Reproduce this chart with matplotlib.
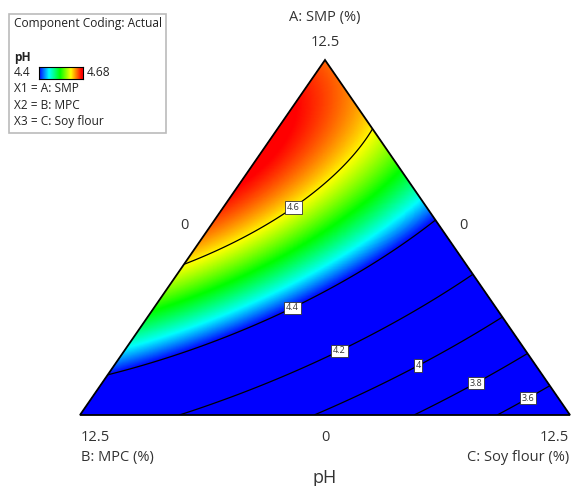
"""Mixture design contour plot (ternary) of pH"""

import numpy as np
from matplotlib import pyplot as plt
from matplotlib.colors import LinearSegmentedColormap, Normalize
from matplotlib.patches import Polygon, Rectangle
from matplotlib.transforms import Affine2D

# quadratic mixture model for pH, pseudo components (A + B + C = 12.5 %)
coef_linear = [4.638, 4.296, 3.40]       # A, B, C
coef_cross = [0.65, 1.293, 0.53]         # AB, AC, BC
contour_levels = [3.6, 3.8, 4.0, 4.2, 4.4, 4.6]
color_range = [4.4, 4.68]
axis_names = ['A: SMP (%)', 'B: MPC (%)', 'C: Soy flour (%)']
vertex_max = '12.5'
vertex_min = '0'
legend_lines = ['X1 = A: SMP', 'X2 = B: MPC', 'X3 = C: Soy flour']

W, H = 571, 486
plt.rcParams['font.family'] = ['Open Sans', 'DejaVu Sans']
fig = plt.figure(figsize=(W / 100, H / 100), dpi=100)
pix = Affine2D().scale(1 / W, -1 / H).translate(0, 1) + fig.transFigure

ax = fig.add_axes([80 / W, 1 - 415 / H, 490 / W, 355 / H])
ax.set_xlim(0, 1)
ax.set_ylim(0, 1)
ax.axis('off')

# grid in triangle coordinates: y = A, x = C + A / 2
gx, gy = np.meshgrid(np.linspace(0, 1, 600), np.linspace(0, 1, 600))
A = gy
C = gx - gy / 2
B = 1 - A - C
ph = (coef_linear[0] * A + coef_linear[1] * B + coef_linear[2] * C
      + coef_cross[0] * A * B + coef_cross[1] * A * C + coef_cross[2] * B * C)

cmap = LinearSegmentedColormap.from_list(
    'de', [(0, '#0000ff'), (0.22, '#00ffff'), (0.47, '#00ff00'),
           (0.71, '#ffff00'), (0.95, '#ff0000'), (1, '#ff0000')])
norm = Normalize(vmin=color_range[0], vmax=color_range[1], clip=True)

tri = Polygon([[0, 0], [1, 0], [0.5, 1]], closed=True, fill=False,
              edgecolor='black', linewidth=1.3, zorder=5)
ax.add_patch(tri)
tri.set_clip_on(False)

mesh = ax.pcolormesh(gx, gy, ph, cmap=cmap, norm=norm, shading='gouraud')
mesh.set_clip_path(tri)

cs = ax.contour(gx, gy, ph, levels=contour_levels, colors='black', linewidths=0.9)
cs.set_clip_path(tri)

# label anchor points (pixels in the picture)
label_pix = [(527, 396), (474, 380), (415, 360), (337, 346), (290, 303), (292, 205)]
manual = [((x - 80) / 490, (415 - y) / 355) for x, y in label_pix]
labels = cs.clabel(inline=False, fontsize=6.5, manual=manual,
                   fmt=lambda v: f'{v:g}')
for t in labels:
    t.set_color('#333333')
    t.set_bbox(dict(boxstyle='square,pad=0.2', facecolor='white',
                    edgecolor='#333333', linewidth=0.6))
    t.set_rotation(0)
    t.set_zorder(6)

# vertex / axis labels
tc = '#333333'
fs = 10.5
fig.text(325, 18, axis_names[0], transform=pix, ha='center', va='center', fontsize=fs, color=tc)
fig.text(325, 42, vertex_max, transform=pix, ha='center', va='center', fontsize=fs, color=tc)
fig.text(184, 225, vertex_min, transform=pix, ha='center', va='center', fontsize=fs, color=tc)
fig.text(463, 225, vertex_min, transform=pix, ha='center', va='center', fontsize=fs, color=tc)
fig.text(81, 437, vertex_max, transform=pix, ha='left', va='center', fontsize=fs, color=tc)
fig.text(81, 457, axis_names[1], transform=pix, ha='left', va='center', fontsize=fs, color=tc)
fig.text(325, 437, vertex_min, transform=pix, ha='center', va='center', fontsize=fs, color=tc)
fig.text(569, 437, vertex_max, transform=pix, ha='right', va='center', fontsize=fs, color=tc)
fig.text(569, 457, axis_names[2], transform=pix, ha='right', va='center', fontsize=fs, color=tc)
fig.text(325, 478, 'pH', transform=pix, ha='center', va='center', fontsize=13, color=tc)

# legend box
fig.add_artist(Rectangle((9, 14), 157, 119, transform=pix, fill=False,
                         edgecolor='#bbbbbb', linewidth=1.2))
lc = '#222222'
lfs = 8.6
fig.text(14, 24, 'Component Coding: Actual', transform=pix, va='center', fontsize=lfs, color=lc)
fig.text(14, 57, 'pH', transform=pix, va='center', fontsize=lfs, color=lc, fontweight='bold')
fig.text(14, 73, f'{color_range[0]:g}', transform=pix, va='center', fontsize=lfs, color=lc)
fig.text(87, 73, f'{color_range[1]:g}', transform=pix, va='center', fontsize=lfs, color=lc)
for i, s in enumerate(legend_lines):
    fig.text(14, 89 + 16 * i, s, transform=pix, va='center', fontsize=lfs, color=lc)

cax = fig.add_axes([39 / W, 1 - 79 / H, 44 / W, 12 / H])
cax.imshow(np.linspace(0, 1, 200)[None, :], cmap=cmap, aspect='auto')
cax.set_xticks([])
cax.set_yticks([])
for sp in cax.spines.values():
    sp.set_linewidth(0.8)

fig.savefig('out.png', dpi=100)
